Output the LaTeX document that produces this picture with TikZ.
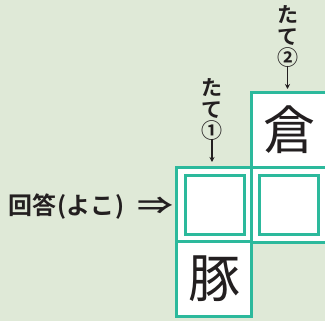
\documentclass[tikz,border=0pt]{standalone}
\usepackage{fontspec}
\newfontfamily\jpb{Noto Sans CJK JP Bold}
\newfontfamily\jpr{Noto Sans CJK JP}
\usetikzlibrary{arrows.meta}
\definecolor{bg}{HTML}{DFE9D7}
\definecolor{teal}{HTML}{2CB99C}
\definecolor{ink}{HTML}{231F20}
\begin{document}
\begin{tikzpicture}[x=1pt,y=-1pt,
  cell/.style={draw=teal,line width=3pt,fill=white,minimum size=75pt,inner sep=0pt,text=ink,font=\jpr\fontsize{52}{52}\selectfont},
  ansbox/.style={draw=teal,line width=3pt,minimum size=59pt,inner sep=0pt},
  tate/.style={align=center,inner sep=0pt,text=ink,font=\jpb\fontsize{21}{21.5}\selectfont},
  lab/.style={inner sep=0pt,text=ink,font=\jpb\fontsize{24}{24}\selectfont},
  pointer/.style={draw=ink,line width=1.2pt,-{Stealth[length=5pt,width=5pt]}}]
\fill[bg] (0,0) rectangle (325,321);
\useasboundingbox (0,0) rectangle (325,321);
\node[cell] (kura) at (289.2,129.7) {倉};
\node[cell] (c1) at (214.2,204.7) {};
\node[cell] (c2) at (289.2,204.7) {};
\node[cell] (buta) at (214.2,279.2) {豚};
\node[ansbox] (a1) at (214.7,205.2) {};
\node[ansbox] (a2) at (288.8,205.2) {};
\node[lab,anchor=west] (yoko) at (8,207) {回答\hspace{1pt}(\hspace{0.5pt}よこ\hspace{0.5pt})\hspace{13pt}\scalebox{1.5}[1.0]{⇒}};
\node[tate] (t1) at (212,109.5) {た\\て\\①};
\node[tate] (t2) at (287.5,36.5) {た\\て\\②};
\coordinate (e1) at (212,162);
\coordinate (e2) at (287.5,89);
\draw[pointer] (t1.south) ++(0,-2) -- (e1);
\draw[pointer] (t2.south) ++(0,-2) -- (e2);
\end{tikzpicture}
\end{document}
